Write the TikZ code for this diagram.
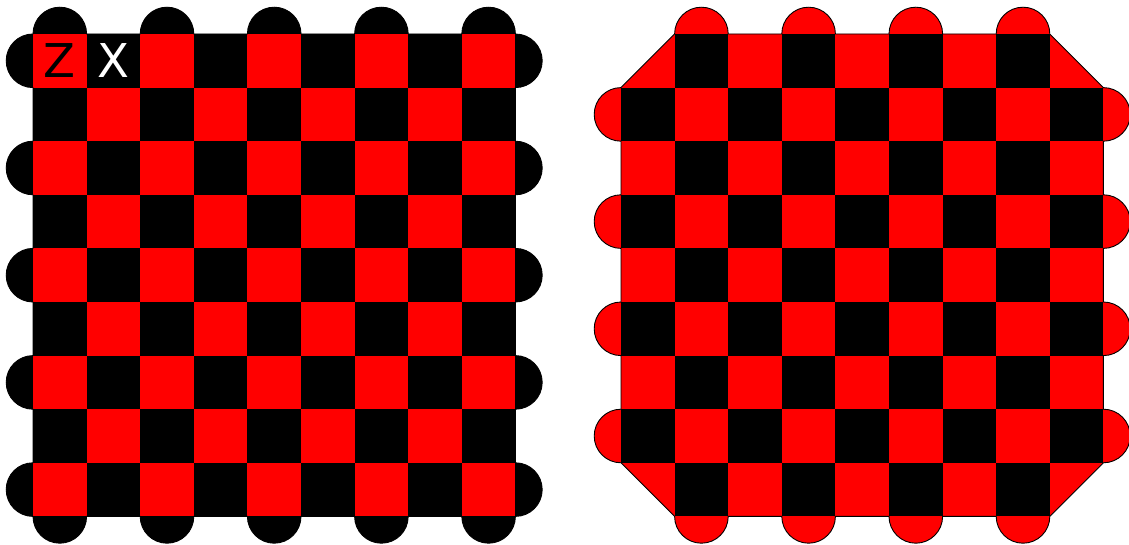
\documentclass[tikz,border=0pt]{standalone}
\usepackage{fontspec}
\newfontfamily\lblfont{DejaVu Sans}
\begin{document}
\begin{tikzpicture}[x=1pt,y=1pt,
  outline/.style={line width=0.9pt, draw=black, line join=miter},
  redsq/.style={fill=red},
  blacksq/.style={fill=black},
  lbl/.style={font=\lblfont\fontsize{46.6}{50}\selectfont, inner sep=0pt}]
\useasboundingbox (0,0) rectangle (1129,544);
\def\s{53.6}
\def\h{26.8}
\def\Yt{510}
\newcommand\lboardpath[1]{(#1,\Yt)
 \foreach \c in {0,2,4,6,8} { -- ({#1+\c*\s},\Yt) arc[start angle=180,end angle=0,radius=\h] }
 \foreach \r in {0,2,4,6,8} { -- ({#1+9*\s},{\Yt-\r*\s}) arc[start angle=90,end angle=-90,radius=\h] }
 \foreach \c in {8,6,4,2,0} { -- ({#1+(\c+1)*\s},{\Yt-9*\s}) arc[start angle=0,end angle=-180,radius=\h] }
 \foreach \r in {8,6,4,2,0} { -- (#1,{\Yt-(\r+1)*\s}) arc[start angle=-90,end angle=-270,radius=\h] }
 -- cycle}
\newcommand\rboardpath[1]{({#1+\s},\Yt)
 \foreach \c in {1,3,5,7} { -- ({#1+\c*\s},\Yt) arc[start angle=180,end angle=0,radius=\h] }
 -- ({#1+9*\s},{\Yt-\s})
 \foreach \r in {1,3,5,7} { -- ({#1+9*\s},{\Yt-\r*\s}) arc[start angle=90,end angle=-90,radius=\h] }
 -- ({#1+8*\s},{\Yt-9*\s})
 \foreach \c in {7,5,3,1} { -- ({#1+(\c+1)*\s},{\Yt-9*\s}) arc[start angle=0,end angle=-180,radius=\h] }
 -- (#1,{\Yt-8*\s})
 \foreach \r in {7,5,3,1} { -- (#1,{\Yt-(\r+1)*\s}) arc[start angle=-90,end angle=-270,radius=\h] }
 -- cycle}
% ---------- left board ----------
\def\xL{33}
\fill[black] \lboardpath{\xL};
\foreach \r in {0,...,8} {
  \foreach \c in {0,...,8} {
    \ifodd\numexpr\r+\c\relax\else
      \fill[redsq] ({\xL+\c*\s},{\Yt-\r*\s}) rectangle ++(\s,-\s);
    \fi
  }
}
\draw[outline] \lboardpath{\xL};
\node[lbl, text=black] (zlbl) at ({\xL+0.5*\s},{\Yt-0.5*\s}) {Z};
\node[lbl, text=white] (xlbl) at ({\xL+1.5*\s},{\Yt-0.5*\s}) {X};
% ---------- right board ----------
\def\xR{621}
\fill[red] \rboardpath{\xR};
\foreach \r in {0,...,8} {
  \foreach \c in {0,...,8} {
    \ifodd\numexpr\r+\c\relax
      \fill[blacksq] ({\xR+\c*\s},{\Yt-\r*\s}) rectangle ++(\s,-\s);
    \fi
  }
}
\draw[outline] \rboardpath{\xR};
\end{tikzpicture}
\end{document}
